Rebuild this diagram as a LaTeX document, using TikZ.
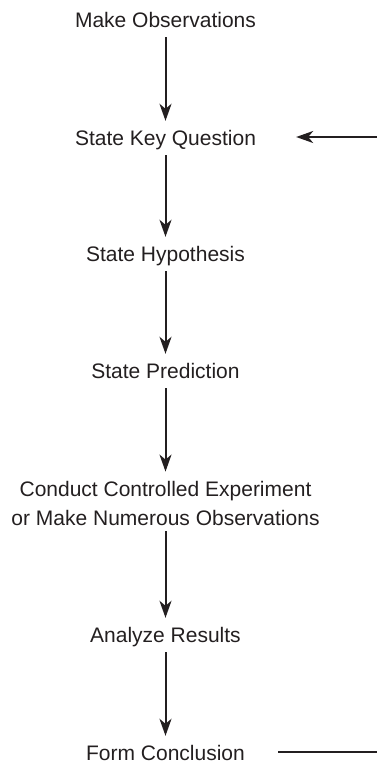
\documentclass[tikz,border=0pt]{standalone}
\usepackage{fontspec}
\setmainfont{Liberation Sans}
\usetikzlibrary{arrows.meta,positioning}
\definecolor{ink}{HTML}{231F20}
\tikzset{
    stepnode/.style={text=ink,font=\fontsize{21}{29}\selectfont,inner xsep=4pt,inner ysep=6pt,
        text height=15pt,text depth=4pt,anchor=base},
    arr/.style={-{Stealth[length=17pt,width=12pt,inset=5pt]},draw=ink,line width=2pt,shorten >=3pt},
    loopline/.style={draw=ink,line width=2pt}
}
\begin{document}
\begin{tikzpicture}[x=1pt,y=-1pt]
    \useasboundingbox (0,0) rectangle (377,764);
    \node[stepnode] (obs) at (165.5,27) {Make Observations};
    \node[stepnode] (quest) at (165.5,145) {State Key Question};
    \node[stepnode] (hypo) at (165.5,261) {State Hypothesis};
    \node[stepnode] (pred) at (165.5,378) {State Prediction};
    \node[stepnode,align=center,text height={},text depth={}] (expt) at (165.5,525)
        {Conduct Controlled Experiment\\or Make Numerous Observations};
    \node[stepnode] (anal) at (165.5,642) {Analyze Results};
    \node[stepnode] (concl) at (165.5,760) {Form Conclusion};

    \draw[arr] (obs) -- (quest);
    \draw[arr] (quest) -- (hypo);
    \draw[arr] (hypo) -- (pred);
    \draw[arr] (pred) -- (expt);
    \draw[arr] (expt) -- (anal);
    \draw[arr] (anal) -- (concl);

    % loop back from the conclusion
    \coordinate (fbin) at (377,137);
    \coordinate (fbout) at (377,752);
    \draw[arr,shorten >=36pt] (fbin) -- (fbin -| quest.east);
    \draw[loopline,shorten <=29pt] (fbout -| concl.east) -- (fbout);
\end{tikzpicture}
\end{document}
